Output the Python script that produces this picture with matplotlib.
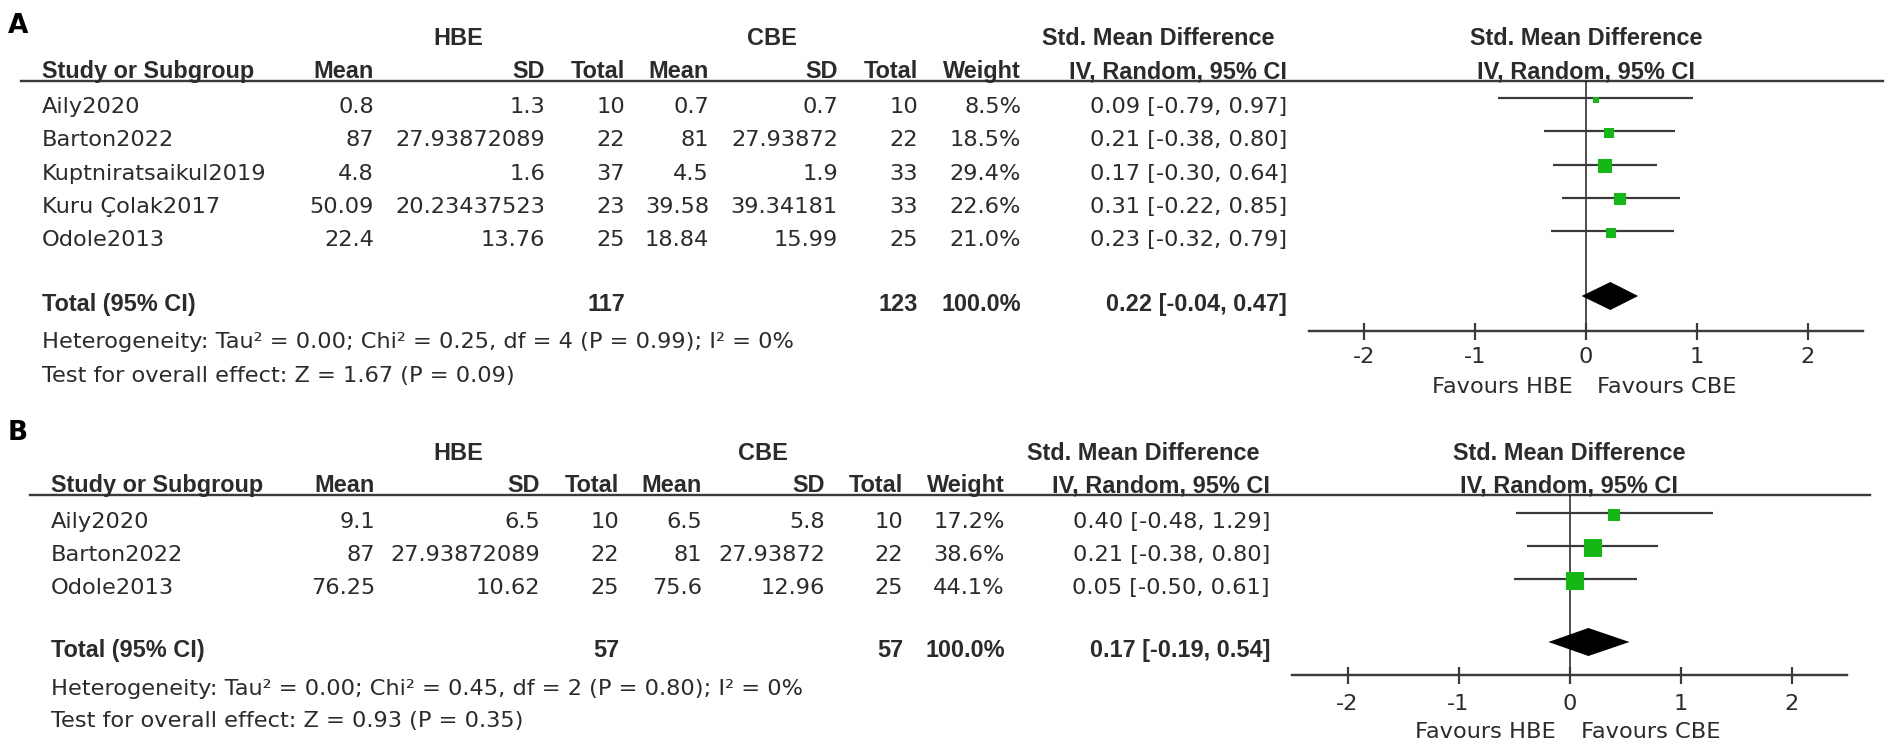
import numpy as np
import matplotlib
matplotlib.use('Agg')
import matplotlib.pyplot as plt
import matplotlib.transforms as mtransforms

# ---- panel A data ----
studies_a = ['Aily2020', 'Barton2022', 'Kuptniratsaikul2019', 'Kuru Çolak2017', 'Odole2013']
hbe_mean_a = [0.8, 87, 4.8, 50.09, 22.4]
hbe_sd_a = [1.3, 27.93872089, 1.6, 20.23437523, 13.76]
hbe_n_a = [10, 22, 37, 23, 25]
cbe_mean_a = [0.7, 81, 4.5, 39.58, 18.84]
cbe_sd_a = [0.7, 27.93872, 1.9, 39.34181, 15.99]
cbe_n_a = [10, 22, 33, 33, 25]
weight_a = [8.5, 18.5, 29.4, 22.6, 21.0]
smd_a = [0.09, 0.21, 0.17, 0.31, 0.23]
lo_a = [-0.79, -0.38, -0.30, -0.22, -0.32]
hi_a = [0.97, 0.80, 0.64, 0.85, 0.79]
total_n_a = [117, 123]
pooled_a = [0.22, -0.04, 0.47]
het_a = 'Heterogeneity: Tau² = 0.00; Chi² = 0.25, df = 4 (P = 0.99); I² = 0%'
test_a = 'Test for overall effect: Z = 1.67 (P = 0.09)'

# ---- panel B data ----
studies_b = ['Aily2020', 'Barton2022', 'Odole2013']
hbe_mean_b = [9.1, 87, 76.25]
hbe_sd_b = [6.5, 27.93872089, 10.62]
hbe_n_b = [10, 22, 25]
cbe_mean_b = [6.5, 81, 75.6]
cbe_sd_b = [5.8, 27.93872, 12.96]
cbe_n_b = [10, 22, 25]
weight_b = [17.2, 38.6, 44.1]
smd_b = [0.40, 0.21, 0.05]
lo_b = [-0.48, -0.38, -0.50]
hi_b = [1.29, 0.80, 0.61]
total_n_b = [57, 57]
pooled_b = [0.17, -0.19, 0.54]
het_b = 'Heterogeneity: Tau² = 0.00; Chi² = 0.45, df = 2 (P = 0.80); I² = 0%'
test_b = 'Test for overall effect: Z = 0.93 (P = 0.35)'

xticks = [-2, -1, 0, 1, 2]

W, H = 1902, 750
PT = 0.72          # points per pixel at dpi 100
TXT = '#2b2b2b'
LINE = '#3a3a3a'
GREEN = '#14b814'

REG = dict(family='DejaVu Sans', size=16.2, color=TXT)
BOLD = dict(family='Liberation Sans', weight='bold', size=16.9, color=TXT)

# layout in pixels (baselines for text)
lay_a = dict(lab_y=33, grp_y=45, col_y=78, rule_y=81, row0=113, step=33.3,
             tot_y=311, het_y=348, test_y=382, axis_y=331, tick_y=363, fav_y=393,
             x_study=42, x_mean=374, x_sd=545, x_n=625, x_cmean=709, x_csd=838,
             x_cn=918, x_w=1021, x_ci=1287, x_hbe=458, x_cbe=772, x_smdh=1158,
             rule_x0=21, rule_x1=1883, f_x0=1309, f_x1=1863, sq_k=2.4)
lay_b = dict(lab_y=440, grp_y=460, col_y=492, rule_y=495, row0=528, step=33.0,
             tot_y=657, het_y=695, test_y=727, axis_y=675, tick_y=710, fav_y=738,
             x_study=51, x_mean=375, x_sd=540, x_n=619, x_cmean=702, x_csd=825,
             x_cn=903, x_w=1005, x_ci=1270, x_hbe=458, x_cbe=763, x_smdh=1143,
             rule_x0=30, rule_x1=1870, f_x0=1292, f_x1=1847, sq_k=2.85)

fig = plt.figure(figsize=(W / 100, H / 100), dpi=100)
canvas = fig.add_axes([0, 0, 1, 1])
canvas.set_xlim(0, W)
canvas.set_ylim(H, 0)
canvas.axis('off')


def t(x, y, s, ha='right', **kw):
    canvas.text(x, y, s, ha=ha, va='baseline', **kw)


def panel(L, label, studies, hm, hsd, hn, cm, csd, cn, wt, smd, lo, hi, tot_n, pooled, het, test):
    t(8, L['lab_y'], label, ha='left', family='DejaVu Sans', weight='bold', size=19, color='black')
    # group headers
    t(L['x_hbe'], L['grp_y'], 'HBE', ha='center', **BOLD)
    t(L['x_cbe'], L['grp_y'], 'CBE', ha='center', **BOLD)
    t(L['x_smdh'], L['grp_y'], 'Std. Mean Difference', ha='center', **BOLD)
    # column headers
    t(L['x_study'], L['col_y'], 'Study or Subgroup', ha='left', **BOLD)
    for key, name in [('x_mean', 'Mean'), ('x_sd', 'SD'), ('x_n', 'Total'), ('x_cmean', 'Mean'),
                      ('x_csd', 'SD'), ('x_cn', 'Total'), ('x_w', 'Weight'),
                      ('x_ci', 'IV, Random, 95% CI')]:
        t(L[key], L['col_y'], name, **BOLD)
    canvas.plot([L['rule_x0'], L['rule_x1']], [L['rule_y'], L['rule_y']], color=LINE, lw=2.4 * PT)

    # study rows
    ys = []
    for i, s in enumerate(studies):
        y = L['row0'] + i * L['step']
        ys.append(y - 15)
        t(L['x_study'], y, s, ha='left', **REG)
        t(L['x_mean'], y, str(hm[i]), **REG)
        t(L['x_sd'], y, str(hsd[i]), **REG)
        t(L['x_n'], y, str(hn[i]), **REG)
        t(L['x_cmean'], y, str(cm[i]), **REG)
        t(L['x_csd'], y, str(csd[i]), **REG)
        t(L['x_cn'], y, str(cn[i]), **REG)
        t(L['x_w'], y, f'{wt[i]:.1f}%', **REG)
        t(L['x_ci'], y, f'{smd[i]:.2f} [{lo[i]:.2f}, {hi[i]:.2f}]', **REG)

    # total row
    ty = L['tot_y']
    t(L['x_study'], ty, 'Total (95% CI)', ha='left', **BOLD)
    t(L['x_n'], ty, str(tot_n[0]), **BOLD)
    t(L['x_cn'], ty, str(tot_n[1]), **BOLD)
    t(L['x_w'], ty, '100.0%', **BOLD)
    t(L['x_ci'], ty, f'{pooled[0]:.2f} [{pooled[1]:.2f}, {pooled[2]:.2f}]', **BOLD)
    t(L['x_study'], L['het_y'], het, ha='left', **REG)
    t(L['x_study'], L['test_y'], test, ha='left', **REG)

    # forest plot
    ax = fig.add_axes([L['f_x0'] / W, 1 - L['axis_y'] / H,
                       (L['f_x1'] - L['f_x0']) / W, (L['axis_y'] - L['rule_y']) / H])
    ax.set_xlim(-2.5, 2.5)
    ax.set_ylim(L['axis_y'], L['rule_y'])
    ax.patch.set_visible(False)
    for sp in ['top', 'left', 'right']:
        ax.spines[sp].set_visible(False)
    ax.spines['bottom'].set_linewidth(2.4 * PT)
    ax.spines['bottom'].set_color(LINE)
    ax.set_yticks([])
    ax.set_xticks(xticks)
    ax.tick_params(axis='x', direction='inout', length=17 * PT, width=2.2 * PT,
                   color=LINE, labelbottom=False)
    ax.axvline(0, color='#1a1a1a', lw=1.5 * PT, zorder=1)

    ax.hlines(ys, lo, hi, color=LINE, lw=2.2 * PT, zorder=2)
    for x, y, w in zip(smd, ys, wt):
        ax.plot(x, y + 1.5, marker='s', ls='none', color=GREEN, mew=0,
                ms=L['sq_k'] * np.sqrt(w) * PT, zorder=3)
    dy = ty - 15
    ax.fill([pooled[1], pooled[0], pooled[2], pooled[0]],
            [dy, dy - 14, dy, dy + 14], color='black', lw=0, zorder=4)

    blend = mtransforms.blended_transform_factory(ax.transData, canvas.transData)
    for v in xticks:
        ax.text(v, L['tick_y'], str(v), ha='center', va='baseline', transform=blend, **REG)
    ax.text(-0.12, L['fav_y'], 'Favours HBE', ha='right', va='baseline', transform=blend, **REG)
    ax.text(0.10, L['fav_y'], 'Favours CBE', ha='left', va='baseline', transform=blend, **REG)
    # forest header centred on the line of no effect
    ax.text(0, L['grp_y'], 'Std. Mean Difference', ha='center', va='baseline', transform=blend, **BOLD)
    ax.text(0, L['col_y'], 'IV, Random, 95% CI', ha='center', va='baseline', transform=blend, **BOLD)


panel(lay_a, 'A', studies_a, hbe_mean_a, hbe_sd_a, hbe_n_a, cbe_mean_a, cbe_sd_a, cbe_n_a,
      weight_a, smd_a, lo_a, hi_a, total_n_a, pooled_a, het_a, test_a)
panel(lay_b, 'B', studies_b, hbe_mean_b, hbe_sd_b, hbe_n_b, cbe_mean_b, cbe_sd_b, cbe_n_b,
      weight_b, smd_b, lo_b, hi_b, total_n_b, pooled_b, het_b, test_b)

fig.savefig('out.png', dpi=100)
